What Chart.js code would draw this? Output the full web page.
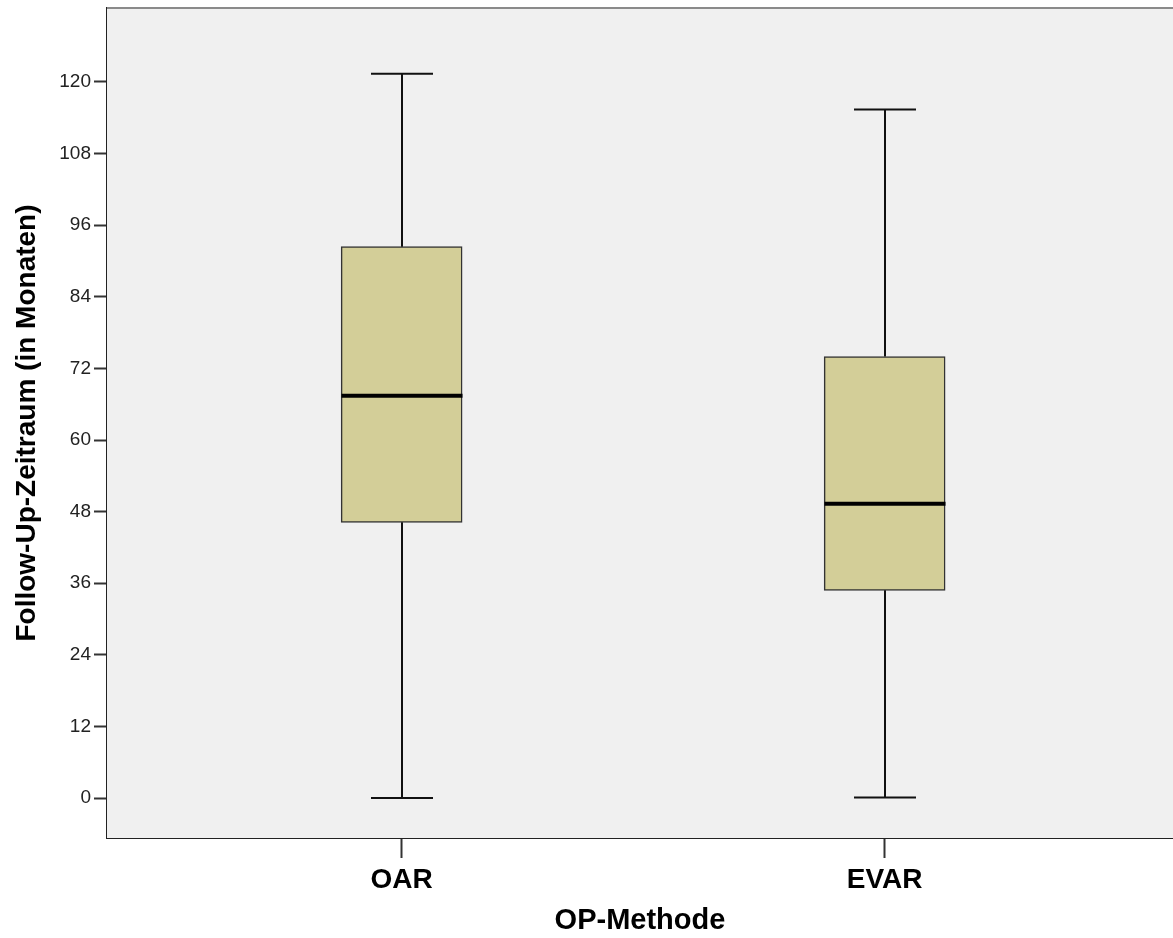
<!DOCTYPE html>
<html>
<head>
<meta charset="utf-8">
<script src="https://cdn.jsdelivr.net/npm/chart.js@4/dist/chart.umd.min.js"></script>
<style>
    html, body { margin: 0; padding: 0; background: #fff; }
    #wrap { width: 1173px; height: 938px; }
</style>
</head>
<body>
<div id="wrap"><canvas id="myChart"></canvas></div>
<script>
const categories = ["OAR", "EVAR"];
const minVals = [0, 0.1];
const q1Vals = [46.2, 34.8];
const medianVals = [67.4, 49.3];
const q3Vals = [92.4, 74.0];
const maxVals = [121.4, 115.4];
const yTicks = [0, 12, 24, 36, 48, 60, 72, 84, 96, 108, 120];

const FONT = "'Liberation Sans', Arial, sans-serif";

const boxData = categories.map((c, i) => ({ x: i + 1, y: [q1Vals[i], q3Vals[i]] }));

// plot background + top frame line
const plotArea = {
    id: "plotArea",
    beforeDatasetsDraw(chart) {
        const { ctx, chartArea: a } = chart;
        ctx.save();
        ctx.fillStyle = "#f0f0f0";
        ctx.fillRect(a.left, a.top, a.right - a.left, a.bottom - a.top);
        ctx.strokeStyle = "#8a8a8a";
        ctx.lineWidth = 2;
        ctx.beginPath();
        ctx.moveTo(a.left, a.top);
        ctx.lineTo(a.right, a.top);
        ctx.stroke();
        ctx.restore();
    },
};

// whiskers, caps and medians
const whiskers = {
    id: "whiskers",
    afterDatasetsDraw(chart) {
        const { ctx } = chart;
        const xs = chart.scales.x;
        const ys = chart.scales.y;
        const capHalf = 31;
        const boxHalf = 60.5;
        ctx.save();
        categories.forEach((c, i) => {
            const cx = Math.round(xs.getPixelForValue(i + 1));
            ctx.strokeStyle = "#111";
            ctx.lineWidth = 2;
            ctx.beginPath();
            ctx.moveTo(cx, ys.getPixelForValue(q3Vals[i]));
            ctx.lineTo(cx, ys.getPixelForValue(maxVals[i]));
            ctx.moveTo(cx, ys.getPixelForValue(q1Vals[i]));
            ctx.lineTo(cx, ys.getPixelForValue(minVals[i]));
            ctx.moveTo(cx - capHalf, ys.getPixelForValue(maxVals[i]));
            ctx.lineTo(cx + capHalf, ys.getPixelForValue(maxVals[i]));
            ctx.moveTo(cx - capHalf, ys.getPixelForValue(minVals[i]));
            ctx.lineTo(cx + capHalf, ys.getPixelForValue(minVals[i]));
            ctx.stroke();
            ctx.lineWidth = 4;
            ctx.strokeStyle = "#000";
            ctx.beginPath();
            ctx.moveTo(cx - boxHalf, ys.getPixelForValue(medianVals[i]));
            ctx.lineTo(cx + boxHalf, ys.getPixelForValue(medianVals[i]));
            ctx.stroke();
        });
        ctx.restore();
    },
};

const config = {
    type: "bar",
    data: {
        datasets: [
            {
                data: boxData,
                backgroundColor: "#d3ce98",
                borderColor: "#333",
                borderWidth: 1.5,
                borderSkipped: false,
                barThickness: 121,
            },
        ],
    },
    options: {
        responsive: true,
        maintainAspectRatio: false,
        animation: false,
        layout: {
            padding: { top: 8, left: 0, right: 0, bottom: 0 },
        },
        scales: {
            x: {
                type: "linear",
                offset: false,
                min: 0.39,
                max: 2.597,
                afterBuildTicks: (scale) => {
                    scale.ticks = categories.map((c, i) => ({ value: i + 1 }));
                },
                afterFit: (scale) => {
                    scale.height = 100;
                    scale.paddingLeft = 0;
                    scale.paddingRight = 0;
                },
                ticks: {
                    autoSkip: false,
                    maxRotation: 0,
                    padding: 5,
                    color: "#000",
                    font: { family: FONT, size: 28, weight: "bold" },
                    callback: (v) => categories[v - 1] || "",
                },
                grid: {
                    offset: false,
                    drawOnChartArea: false,
                    drawTicks: true,
                    tickLength: 20,
                    tickColor: "#333",
                    tickWidth: 2,
                },
                border: { display: true, color: "#222", width: 2 },
                title: {
                    display: true,
                    text: "OP-Methode",
                    color: "#000",
                    font: { family: FONT, size: 29, weight: "bold" },
                    padding: { top: 0, bottom: 0 },
                },
            },
            y: {
                min: -6.7,
                max: 132.4,
                afterBuildTicks: (scale) => {
                    scale.ticks = yTicks.map((v) => ({ value: v }));
                },
                afterFit: (scale) => {
                    scale.width = 107;
                    scale.paddingTop = 0;
                    scale.paddingBottom = 0;
                },
                ticks: {
                    padding: 3,
                    color: "#222",
                    font: { family: FONT, size: 19 },
                },
                grid: {
                    drawOnChartArea: false,
                    drawTicks: true,
                    tickLength: 13,
                    tickColor: "#333",
                    tickWidth: 2,
                },
                border: { display: true, color: "#222", width: 2 },
                title: {
                    display: true,
                    text: "Follow-Up-Zeitraum (in Monaten)",
                    color: "#000",
                    font: { family: FONT, size: 28, weight: "bold" },
                    padding: { top: 10, bottom: 0 },
                },
            },
        },
        plugins: {
            legend: { display: false },
            tooltip: { enabled: false },
        },
    },
    plugins: [plotArea, whiskers],
};

const myChart = new Chart(document.getElementById("myChart").getContext("2d"), config);
</script>
</body>
</html>
